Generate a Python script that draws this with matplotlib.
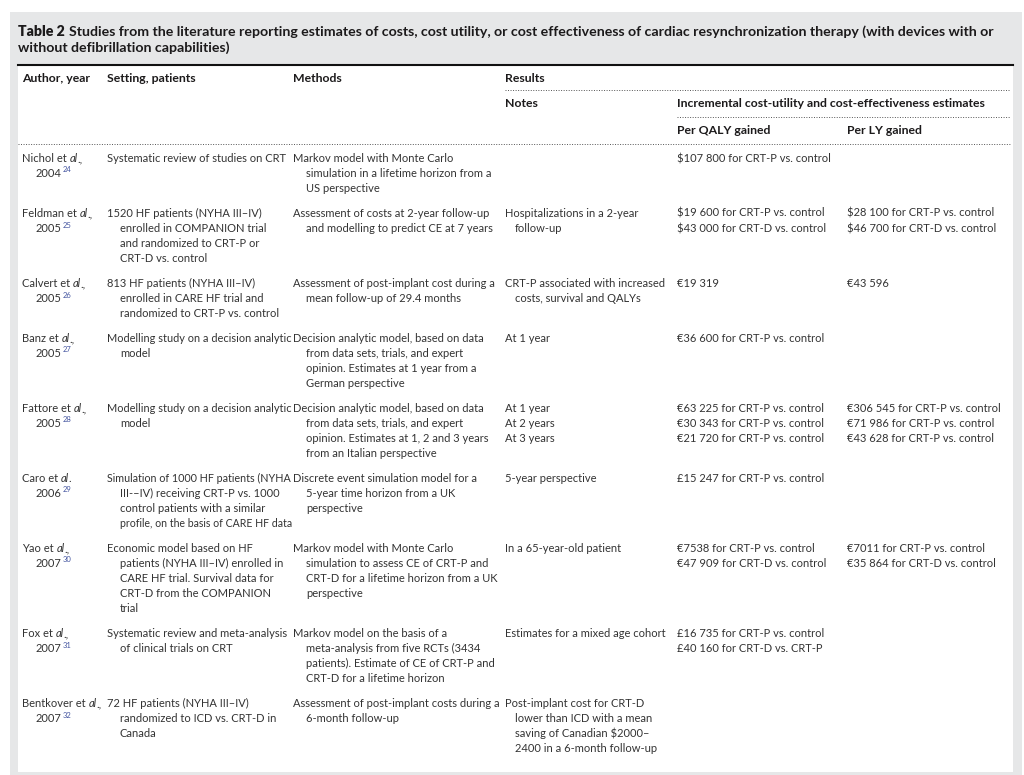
import matplotlib.pyplot as plt
from matplotlib.patches import Rectangle

plt.rcParams['text.parse_math'] = False

# ---- table content ----
title_label = "Table 2"
title_lines = ["Studies from the literature reporting estimates of costs, cost utility, or cost effectiveness of cardiac resynchronization therapy (with devices with or",
               "without defibrillation capabilities)"]

col_heads = ["Author, year", "Setting, patients", "Methods", "Results"]
sub_heads = ["Notes", "Incremental cost-utility and cost-effectiveness estimates"]
sub_sub_heads = ["Per QALY gained", "Per LY gained"]

authors = ["Nichol", "Feldman", "Calvert", "Banz", "Fattore", "Caro", "Yao", "Fox", "Bentkover"]
etal_end = [".,", ".,", ".,", ".,", ".,", ".", ".,", ".,", ".,"]
years = ["2004", "2005", "2005", "2005", "2005", "2006", "2007", "2007", "2007"]
refs = ["24", "25", "26", "27", "28", "29", "30", "31", "32"]

settings = [
    ["Systematic review of studies on CRT"],
    ["1520 HF patients (NYHA III\u2013IV)\nenrolled in COMPANION trial\nand randomized to CRT-P or\nCRT-D vs. control"],
    ["813 HF patients (NYHA III\u2013IV)\nenrolled in CARE HF trial and\nrandomized to CRT-P vs. control"],
    ["Modelling study on a decision analytic\nmodel"],
    ["Modelling study on a decision analytic\nmodel"],
    ["Simulation of 1000 HF patients (NYHA\nIII-\u2013IV) receiving CRT-P vs. 1000\ncontrol patients with a similar\nprofile, on the basis of CARE HF data"],
    ["Economic model based on HF\npatients (NYHA III\u2013IV) enrolled in\nCARE HF trial. Survival data for\nCRT-D from the COMPANION\ntrial"],
    ["Systematic review and meta-analysis\nof clinical trials on CRT"],
    ["72 HF patients (NYHA III\u2013IV)\nrandomized to ICD vs. CRT-D in\nCanada"],
]

methods = [
    ["Markov model with Monte Carlo\nsimulation in a lifetime horizon from a\nUS perspective"],
    ["Assessment of costs at 2-year follow-up\nand modelling to predict CE at 7 years"],
    ["Assessment of post-implant cost during a\nmean follow-up of 29.4 months"],
    ["Decision analytic model, based on data\nfrom data sets, trials, and expert\nopinion. Estimates at 1 year from a\nGerman perspective"],
    ["Decision analytic model, based on data\nfrom data sets, trials, and expert\nopinion. Estimates at 1, 2 and 3 years\nfrom an Italian perspective"],
    ["Discrete event simulation model for a\n5-year time horizon from a UK\nperspective"],
    ["Markov model with Monte Carlo\nsimulation to assess CE of CRT-P and\nCRT-D for a lifetime horizon from a UK\nperspective"],
    ["Markov model on the basis of a\nmeta-analysis from five RCTs (3434\npatients). Estimate of CE of CRT-P and\nCRT-D for a lifetime horizon"],
    ["Assessment of post-implant costs during a\n6-month follow-up"],
]

notes = [
    [],
    ["Hospitalizations in a 2-year\nfollow-up"],
    ["CRT-P associated with increased\ncosts, survival and QALYs"],
    ["At 1 year"],
    ["At 1 year", "At 2 years", "At 3 years"],
    ["5-year perspective"],
    ["In a 65-year-old patient"],
    ["Estimates for a mixed age cohort"],
    ["Post-implant cost for CRT-D\nlower than ICD with a mean\nsaving of Canadian $2000\u2013\n2400 in a 6-month follow-up"],
]

per_qaly = [
    ["$107 800 for CRT-P vs. control"],
    ["$19 600 for CRT-P vs. control", "$43 000 for CRT-D vs. control"],
    ["\u20ac19 319"],
    ["\u20ac36 600 for CRT-P vs. control"],
    ["\u20ac63 225 for CRT-P vs. control", "\u20ac30 343 for CRT-P vs. control", "\u20ac21 720 for CRT-P vs. control"],
    ["\u00a315 247 for CRT-P vs. control"],
    ["\u20ac7538 for CRT-P vs. control", "\u20ac47 909 for CRT-D vs. control"],
    ["\u00a316 735 for CRT-P vs. control", "\u00a340 160 for CRT-D vs. CRT-P"],
    [],
]

per_ly = [
    [],
    ["$28 100 for CRT-P vs. control", "$46 700 for CRT-D vs. control"],
    ["\u20ac43 596"],
    [],
    ["\u20ac306 545 for CRT-P vs. control", "\u20ac71 986 for CRT-P vs. control", "\u20ac43 628 for CRT-P vs. control"],
    [],
    ["\u20ac7011 for CRT-P vs. control", "\u20ac35 864 for CRT-D vs. control"],
    [],
    [],
]

# ---- style ----
FONT = "Lato"
BODY = 8.0
HEAD = 8.8
TITLE = 10.2
TXT = "#333333"
DARK = "#1c1a1b"
GREY_BG = "#e6e7e8"
REF_C = "#4455a0"

col_x = [22, 107, 293, 505, 677, 847, 1011]
indent = 13
line_h = 15
row_gap = 10

fig = plt.figure(figsize=(10.24, 7.75), dpi=100)
ax = fig.add_axes([0, 0, 1, 1])
ax.set_xlim(0, 1024)
ax.set_ylim(775, 0)
ax.axis('off')
renderer = fig.canvas.get_renderer()

ax.add_patch(Rectangle((10, 12), 1012, 763, facecolor=GREY_BG, edgecolor='none'))
ax.add_patch(Rectangle((18, 65), 995, 707, facecolor='white', edgecolor='none'))


def put(x, y, s, size=BODY, color=TXT, weight='normal', style='normal'):
    return ax.text(x, y, s, va='baseline', ha='left', fontfamily=FONT, fontsize=size,
                   color=color, fontweight=weight, fontstyle=style)


def wpx(t):
    return t.get_window_extent(renderer).width


def put_fit(x, y, s, maxw, **kw):
    t = put(x, y, s, **kw)
    w = wpx(t)
    if w > maxw:
        t.set_fontsize(t.get_fontsize() * maxw / w)
    return t


# title
t = put(18, 36, title_label, size=TITLE, color=DARK, weight='heavy')
put(18 + wpx(t) + 4, 36, title_lines[0], size=TITLE, color=DARK, weight='bold')
put(18, 52, title_lines[1], size=TITLE, color=DARK, weight='bold')

# rules
ax.plot([18, 1013], [65, 65], color='#111111', lw=1.5)
dot = dict(color='#555555', lw=0.7, linestyle=(0, (1, 1.6)))
ax.plot([505, 1010], [90, 90], **dot)
ax.plot([677, 1010], [117, 117], **dot)
ax.plot([18, 1010], [144, 144], **dot)

# headers
for x, h in zip(col_x[:4], col_heads):
    put(x, 82, h, size=HEAD, color=DARK, weight='bold')
put(col_x[3], 107, sub_heads[0], size=HEAD, color=DARK, weight='bold')
put(col_x[4], 107, sub_heads[1], size=HEAD, color=DARK, weight='bold')
put(col_x[4], 134, sub_sub_heads[0], size=HEAD, color=DARK, weight='bold')
put(col_x[5], 134, sub_sub_heads[1], size=HEAD, color=DARK, weight='bold')


def draw_cell(c, y0, entries, ind):
    x = col_x[c]
    maxw = col_x[c + 1] - x - 1
    k = 0
    for e in entries:
        for j, ln in enumerate(e.split("\n")):
            dx = ind if j else 0
            put_fit(x + dx, y0 + k * line_h, ln, maxw - dx)
            k += 1
    return k


y = 162
for i in range(len(authors)):
    a = put(col_x[0], y, authors[i] + " et")
    x2 = col_x[0] + wpx(a) + 3
    b = put(x2, y, "al", style='italic')
    put(x2 + wpx(b) - 0.5, y, etal_end[i])
    yr = put(col_x[0] + indent + 1, y + line_h, years[i])
    put(col_x[0] + indent + 1 + wpx(yr) + 1, y + line_h - 4.5, refs[i], size=5.5, color=REF_C)
    n = 2
    n = max(n, draw_cell(1, y, settings[i], indent))
    n = max(n, draw_cell(2, y, methods[i], indent))
    n = max(n, draw_cell(3, y, notes[i], 10))
    n = max(n, draw_cell(4, y, per_qaly[i], 0))
    n = max(n, draw_cell(5, y, per_ly[i], 0))
    y += n * line_h + row_gap

fig.savefig("out.png", dpi=100)
